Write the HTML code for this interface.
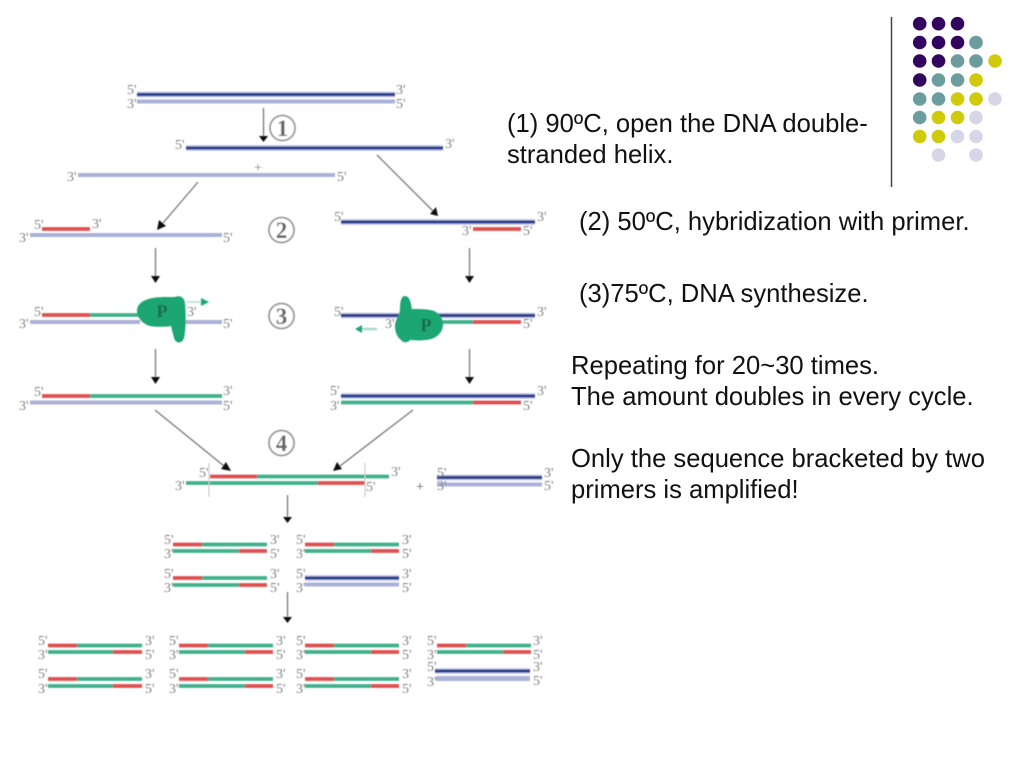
<!DOCTYPE html>
<html>
<head>
<meta charset="utf-8">
<style>
html,body{margin:0;padding:0;background:#fff;width:1024px;height:768px;overflow:hidden}
svg{display:block;position:absolute;left:0;top:0}
.t{font-family:"Liberation Sans",Arial,sans-serif;font-size:25.6px;fill:#111}
.l text{font-family:"Liberation Serif",serif;font-size:14px;fill:#808080}
.c text{font-family:"Liberation Serif",serif;font-size:23px;font-weight:bold;fill:#666;text-anchor:middle}
.c circle{fill:#fff;stroke:#999;stroke-width:1.8}
.n,.b,.r,.g,.s{fill:none}
.n{stroke:#2c3c8c;stroke-width:3}
.b{stroke:#aab1d8;stroke-width:4}
.r{stroke:#e0504f;stroke-width:3.8}
.g{stroke:#3fb08a;stroke-width:3.8}
.h{stroke:#b8c0e2;stroke-width:5.5;fill:none}
.a{stroke:#777;stroke-width:1.3;fill:none}
.head{fill:#111}
</style>
</head>
<body>
<svg width="1024" height="768" viewBox="0 0 1024 768" xmlns="http://www.w3.org/2000/svg">
<defs><filter id="f" x="-5%" y="-5%" width="110%" height="110%"><feGaussianBlur stdDeviation="0.6"/></filter></defs>

<g filter="url(#f)">
<!-- strands -->
<path class="h" d="M137 94.5H395M186 148H443M341 222H535M341 315.5H535M341 396H535M437 477.5H542M305 578H399M435 671H530"/>
<path class="n" d="M137 94.5H395M186 148H443M341 222H535M341 315.5H535M341 396H535M437 477.5H542M305 578H399M435 671H530"/>
<path class="b" d="M137 101.5H395M78 175H335M30 235H222M30 322H140M184 322H222M30 402.5H222M437 484.5H542M305 584.5H399"/>
<path class="b" style="stroke-width:5" d="M436 678.5H530"/>
<path class="g" d="M90 315H140M90 396H222M440 322H473M341 402.5H473M257 476.5H389M186 483H318"/>
<path class="r" d="M42 229H90M473 229H521M42 315H90M473 322H521M42 396H90M473 402.5H521M210 476.5H257M318 483H365"/>
<path d="M209 463V497M365 463V497" stroke="#ccc" stroke-width="1.2" fill="none"/>

<!-- small pairs -->
<path class="g" d="M202 544.5H267M173 551H239M202 578H267M173 585H239M334 544.5H399M305 551H371M77 645.5H142M48 652H113M77 679H142M48 686H113M208 645.5H273M179 652H245M208 679H273M179 686H245M334 645.5H399M305 652H371M334 679H399M305 686H371M466 645.5H531M437 652H503"/>
<path class="r" d="M173 544.5H202M239 551H267M173 578H202M239 585H267M305 544.5H334M371 551H399M48 645.5H77M113 652H142M48 679H77M113 686H142M179 645.5H208M245 652H273M179 679H208M245 686H273M305 645.5H334M371 652H399M305 679H334M371 686H399M437 645.5H466M503 652H531"/>

<!-- arrows -->
<path class="a" d="M263.5 108V137M198 182L163 223M377 155L433 211M155.5 248V278M469.5 248V278M155.5 349V379M469.5 349V379M155 410L224 466M413 410L340 466M287.5 495V518M287.5 592V618"/>
<path class="head" d="M259 136H268L263.5 142ZM159 220L166 226L157 230ZM430 214L436 207L438 216ZM151 276H160L155.5 283ZM465 276H474L469.5 283ZM151 377H160L155.5 384ZM465 377H474L469.5 384ZM221 469L226 462L231 471ZM337 462L342 469L333 471ZM283 517H292L287.5 523ZM283 617H292L287.5 623Z"/>

<!-- polymerase -->
<path fill="#1fa673" d="M137 311C137 301 149 297 165 297L175 297C180 295 184 297 185 303C186 315 186 330 184 338C182 344 176 344 174 338C173 334 172 330 171 326C165 327 155 327 150 326C143 324 137 318 137 311Z"/>
<path fill="#1fa673" d="M405 296C410 296 411 304 412 309C420 309 432 309 436 312C441 315 443 320 443 325C443 333 435 340 425 340C418 341 412 340 410 340C408 343 403 343 401 340C397 337 395 332 395 326C395 320 399 316 400 310C400 302 401 296 405 296Z"/>
<text x="162" y="317" text-anchor="middle" style="font-family:'Liberation Serif',serif;font-size:18px;font-weight:bold;fill:#1a6a50">P</text>
<text x="426" y="331" text-anchor="middle" style="font-family:'Liberation Serif',serif;font-size:18px;font-weight:bold;fill:#1a6a50">P</text>
<path d="M187 302H202" stroke="#c5e8da" stroke-width="2" fill="none"/>
<path d="M201 298L209 302L201 306Z" fill="#1fa673"/>
<path d="M361 329H377" stroke="#a5dcc6" stroke-width="2.5" fill="none"/>
<path d="M362 325L355 329L362 333Z" fill="#1fa673"/>

<!-- step circles -->
<g class="c">
<circle cx="282.5" cy="128" r="12.5"/><text x="282.5" y="136">1</text>
<circle cx="281.5" cy="230" r="12.5"/><text x="281.5" y="238">2</text>
<circle cx="281.5" cy="316" r="12.5"/><text x="281.5" y="324">3</text>
<circle cx="281.5" cy="443" r="12.5"/><text x="281.5" y="451">4</text>
</g>

<!-- labels -->
<g class="l">
<text x="127" y="94">5'</text><text x="127" y="108">3'</text><text x="396" y="94">3'</text><text x="396" y="108">5'</text>
<text x="175" y="149">5'</text><text x="445" y="148">3'</text>
<text x="254" y="172">+</text>
<text x="67" y="181">3'</text><text x="337" y="181">5'</text>
<text x="34" y="229">5'</text><text x="92" y="228">3'</text><text x="19" y="242">3'</text><text x="223" y="242">5'</text>
<text x="334" y="221">5'</text><text x="537" y="221">3'</text><text x="462" y="235">3'</text><text x="523" y="235">5'</text>
<text x="34" y="316">5'</text><text x="19" y="328">3'</text><text x="187" y="316">3'</text><text x="223" y="328">5'</text>
<text x="334" y="316">5'</text><text x="537" y="316">3'</text><text x="385" y="328">3'</text><text x="523" y="328">5'</text>
<text x="34" y="396">5'</text><text x="19" y="410">3'</text><text x="223" y="395">3'</text><text x="223" y="410">5'</text>
<text x="330" y="395">5'</text><text x="330" y="410">3'</text><text x="537" y="395">3'</text><text x="523" y="410">5'</text>
<text x="199" y="477">5'</text><text x="175" y="490">3'</text><text x="391" y="476">3'</text><text x="366" y="491">5'</text>
<text x="416" y="491" style="fill:#555">+</text>
<text x="437" y="477">5'</text><text x="437" y="490">3'</text><text x="544" y="477">3'</text><text x="544" y="490">5'</text>
<text x="164" y="544">5'</text><text x="164" y="558">3'</text><text x="270" y="544">3'</text><text x="270" y="558">5'</text>
<text x="296" y="544">5'</text><text x="296" y="558">3'</text><text x="402" y="544">3'</text><text x="402" y="558">5'</text>
<text x="164" y="578">5'</text><text x="164" y="592">3'</text><text x="270" y="578">3'</text><text x="270" y="592">5'</text>
<text x="296" y="578">5'</text><text x="296" y="592">3'</text><text x="402" y="578">3'</text><text x="402" y="592">5'</text>
<text x="38" y="645">5'</text><text x="38" y="659">3'</text><text x="145" y="645">3'</text><text x="145" y="659">5'</text>
<text x="169" y="645">5'</text><text x="169" y="659">3'</text><text x="276" y="645">3'</text><text x="276" y="659">5'</text>
<text x="296" y="645">5'</text><text x="296" y="659">3'</text><text x="402" y="645">3'</text><text x="402" y="659">5'</text>
<text x="427" y="645">5'</text><text x="427" y="659">3'</text><text x="533" y="645">3'</text><text x="533" y="659">5'</text>
<text x="38" y="678">5'</text><text x="38" y="693">3'</text><text x="145" y="678">3'</text><text x="145" y="693">5'</text>
<text x="169" y="678">5'</text><text x="169" y="693">3'</text><text x="276" y="678">3'</text><text x="276" y="693">5'</text>
<text x="296" y="678">5'</text><text x="296" y="693">3'</text><text x="402" y="678">3'</text><text x="402" y="693">5'</text>
<text x="427" y="671">5'</text><text x="427" y="686">3'</text><text x="533" y="671">3'</text><text x="533" y="685">5'</text>
</g>
</g>

<!-- right text -->
<text class="t" x="507" y="132">(1) 90ºC, open the DNA double-</text>
<text class="t" x="507" y="163">stranded helix.</text>
<text class="t" x="579" y="230">(2) 50ºC, hybridization with primer.</text>
<text class="t" x="579" y="302">(3)75ºC, DNA synthesize.</text>
<text class="t" x="571" y="374">Repeating for 20~30 times.</text>
<text class="t" x="571" y="405">The amount doubles in every cycle.</text>
<text class="t" x="571" y="467">Only the sequence bracketed by two</text>
<text class="t" x="571" y="498">primers is amplified!</text>

<!-- decoration -->
<path d="M891.5 17V187" stroke="#444" stroke-width="1.5"/>
<g fill="#32065f">
<circle cx="919.7" cy="23.7" r="6.8"/><circle cx="938.5" cy="23.7" r="6.8"/><circle cx="957.5" cy="23.7" r="6.8"/>
<circle cx="919.7" cy="42.5" r="6.8"/><circle cx="938.5" cy="42.5" r="6.8"/><circle cx="957.5" cy="42.5" r="6.8"/>
<circle cx="919.7" cy="61" r="6.8"/><circle cx="938.5" cy="61" r="6.8"/>
<circle cx="919.7" cy="80" r="6.8"/>
</g>
<g fill="#6b9c9e">
<circle cx="976" cy="42.5" r="6.8"/>
<circle cx="957.5" cy="61" r="6.8"/><circle cx="976" cy="61" r="6.8"/>
<circle cx="938.5" cy="80" r="6.8"/><circle cx="957.5" cy="80" r="6.8"/>
<circle cx="919.7" cy="99" r="6.8"/><circle cx="938.5" cy="99" r="6.8"/>
<circle cx="919.7" cy="117.5" r="6.8"/>
</g>
<g fill="#cfcb0a">
<circle cx="995" cy="61" r="6.8"/>
<circle cx="976" cy="80" r="6.8"/>
<circle cx="957.5" cy="99" r="6.8"/><circle cx="976" cy="99" r="6.8"/>
<circle cx="938.5" cy="117.5" r="6.8"/><circle cx="957.5" cy="117.5" r="6.8"/>
<circle cx="919.7" cy="136.5" r="6.8"/><circle cx="938.5" cy="136.5" r="6.8"/>
</g>
<g fill="#d6d6e8">
<circle cx="995" cy="99" r="6.8"/>
<circle cx="976" cy="117.5" r="6.8"/>
<circle cx="957.5" cy="136.5" r="6.8"/><circle cx="976" cy="136.5" r="6.8"/>
<circle cx="938.5" cy="155" r="6.8"/><circle cx="976" cy="155" r="6.8"/>
</g>
</svg>
</body>
</html>
